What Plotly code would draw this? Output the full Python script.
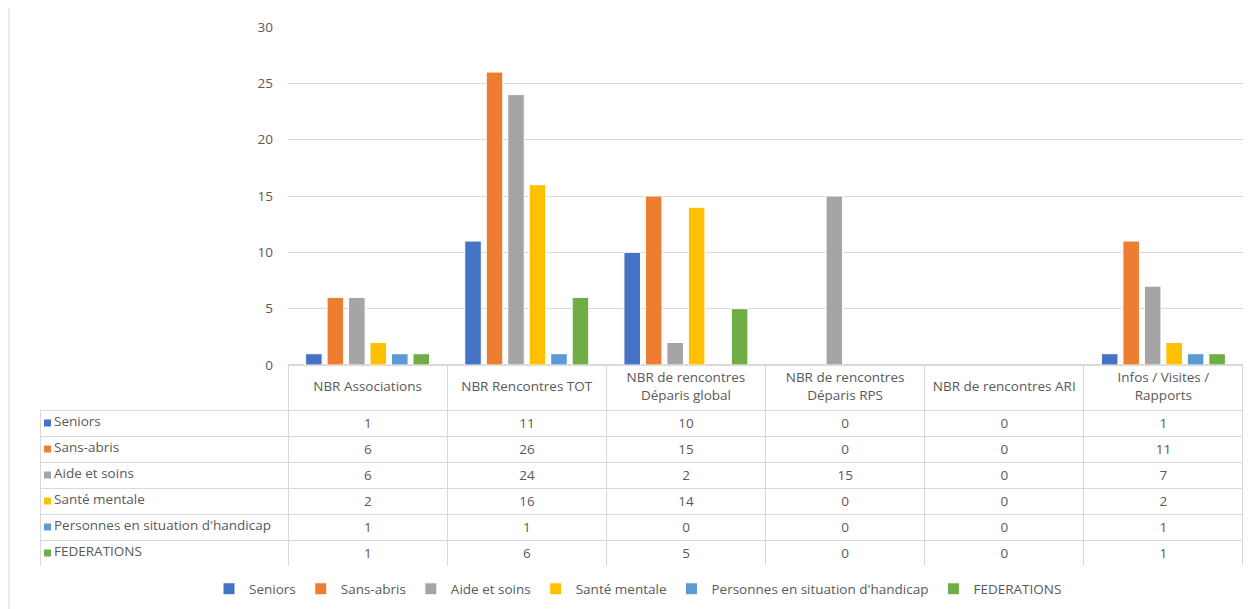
import plotly.graph_objects as go

categories = ["NBR Associations", "NBR Rencontres TOT", "NBR de rencontres<br>Déparis global",
              "NBR de rencontres<br>Déparis RPS", "NBR de rencontres ARI", "Infos / Visites /<br>Rapports"]
series_names = ["Seniors", "Sans-abris", "Aide et soins", "Santé mentale",
                "Personnes en situation d'handicap", "FEDERATIONS"]
seniors = [1, 11, 10, 0, 0, 1]
sans_abris = [6, 26, 15, 0, 0, 11]
aide_soins = [6, 24, 2, 15, 0, 7]
sante_mentale = [2, 16, 14, 0, 0, 2]
handicap = [1, 1, 0, 0, 0, 1]
federations = [1, 6, 5, 0, 0, 1]
y_ticks = [0, 5, 10, 15, 20, 25, 30]

series_values = [seniors, sans_abris, aide_soins, sante_mentale, handicap, federations]
colors = ["#4472C4", "#ED7D31", "#A5A5A5", "#FFC000", "#5B9BD5", "#70AD47"]

W, H = 1252, 609
OFF = 8  # page body margin
FONT = "Open Sans"
FS = 13.5
GRID = "#D9D9D9"
TXT = "#595959"
CLEAR = "rgba(0,0,0,0)"


def px_x(x):
    return (x - OFF) / W


def px_y(y):
    return 1 - (y - OFF) / H


fig = go.Figure()
for name, vals, col in zip(series_names, series_values, colors):
    fig.add_trace(go.Bar(
        x=categories, y=vals, name=name,
        marker=dict(color=col, line=dict(color="white", width=[1 if v else 0 for v in vals])),
    ))

# data table (borders + numeric cells)
cols = [[""] * len(series_names)] + [[str(v[i]) for v in series_values] for i in range(len(categories))]
fig.add_trace(go.Table(
    domain=dict(x=[px_x(40), px_x(1243)], y=[px_y(566), px_y(365)]),
    columnwidth=[248] + [159] * len(categories),
    header=dict(
        values=[""] * (len(categories) + 1),
        height=45,
        fill_color=CLEAR,
        line=dict(color=[CLEAR] + [GRID] * len(categories), width=1),
        font=dict(family=FONT, size=FS, color=TXT),
    ),
    cells=dict(
        values=cols,
        height=26,
        align=["left"] + ["center"] * len(categories),
        fill_color=CLEAR,
        line=dict(color=GRID, width=1),
        font=dict(family=FONT, size=FS, color=TXT),
    ),
))

# table header labels, vertically centred in the header row
fig.add_trace(go.Scatter(
    x=categories, y=[0.5] * len(categories), text=categories,
    mode="text", textposition="middle center", yaxis="y2",
    textfont=dict(family=FONT, size=FS, color=TXT),
    showlegend=False, hoverinfo="skip", cliponaxis=False,
))

# row labels with colour keys
fig.add_trace(go.Scatter(
    x=[7.5] * len(series_names), y=series_names, mode="markers",
    marker=dict(symbol="square", size=7, color=colors),
    xaxis="x3", yaxis="y3", showlegend=False, hoverinfo="skip", cliponaxis=False,
))
fig.add_trace(go.Scatter(
    x=[14] * len(series_names), y=series_names, text=series_names,
    mode="text", textposition="middle right",
    textfont=dict(family=FONT, size=FS, color=TXT),
    xaxis="x3", yaxis="y3", showlegend=False, hoverinfo="skip", cliponaxis=False,
))

fig.update_layout(
    width=W, height=H,
    margin=dict(l=0, r=0, t=0, b=0, autoexpand=False),
    paper_bgcolor="white", plot_bgcolor="white",
    font=dict(family=FONT, size=FS, color=TXT),
    barmode="group", bargap=0.19, bargroupgap=0.23,
    xaxis=dict(domain=[px_x(288), px_x(1243)], showticklabels=False, showgrid=False,
               showline=False, ticks="", fixedrange=True),
    yaxis=dict(domain=[px_y(365), px_y(27)], range=[0, 30], tickvals=y_ticks,
               showgrid=True, gridcolor=GRID, gridwidth=1, zeroline=True, zerolinecolor=GRID,
               showline=False, ticks="", ticklabelstandoff=14, fixedrange=True,
               tickfont=dict(family=FONT, size=FS, color=TXT)),
    yaxis2=dict(domain=[px_y(410), px_y(365)], range=[0, 1], anchor="x", visible=False,
                fixedrange=True),
    xaxis3=dict(domain=[px_x(40), px_x(288)], range=[0, 248], anchor="y3", visible=False,
                fixedrange=True),
    yaxis3=dict(domain=[px_y(566), px_y(410)], range=[5.5, -0.5], anchor="x3", visible=False,
                type="category", categoryorder="array", categoryarray=series_names,
                fixedrange=True),
    legend=dict(orientation="h", x=px_x(638), xanchor="center", y=px_y(589), yanchor="middle",
                font=dict(family=FONT, size=FS, color=TXT), itemwidth=30, tracegroupgap=0),
    shapes=[dict(type="line", xref="paper", yref="paper", x0=px_x(9), x1=px_x(9), y0=0, y1=1.02,
                 line=dict(color=GRID, width=1))],
)

fig.write_html("out.html")
